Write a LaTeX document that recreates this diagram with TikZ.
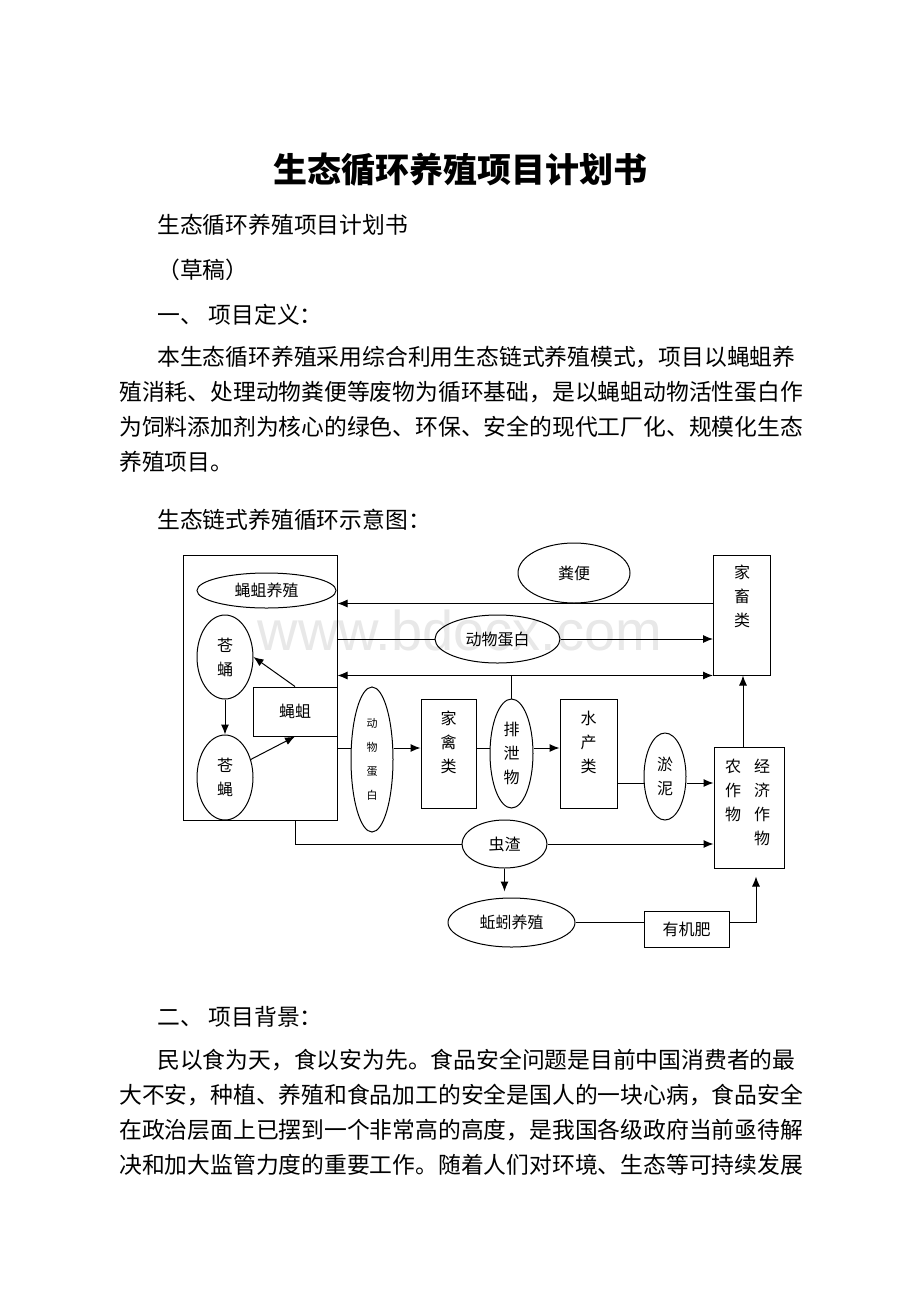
\documentclass[tikz,border=0pt]{standalone}
\usepackage{fontspec}
\newfontfamily\cjk{Noto Sans CJK SC}
\newfontfamily\wmfont{Liberation Sans}
\usepackage{tikz}
\usetikzlibrary{shapes.geometric}
\usetikzlibrary{positioning}
\usetikzlibrary{arrows.meta}
\tikzset{x=1pt, y=-1pt,        % one unit = one pixel of the page, y downwards
         every node/.style={inner sep=0pt, font=\cjk\fontsize{16}{24}\selectfont},
         box/.style={draw, rectangle, line width=1pt},
         oval/.style={draw, ellipse, line width=1pt, align=center},
         vtext/.style={align=center},
         body/.style={anchor=west, font=\cjk\fontsize{22.8}{35}\selectfont},
         link/.style={line width=1pt},
         arrow/.style={->, >={Latex[length=10pt,width=8pt]}, line width=1pt}}

\begin{document}
\begin{tikzpicture}
  \useasboundingbox[fill=white] (0,0) rectangle (920,1302);

  % watermark
  \node[text=gray!18, font=\wmfont\fontsize{56}{60}\selectfont] (mark) at (460,630) {www.bdocx.com};

  % page text
  \node[font=\cjk\bfseries\fontsize{34}{40}\selectfont] (title) at (460,170) {生态循环养殖项目计划书};
  \node[body] (sub) at (157,225) {生态循环养殖项目计划书};
  \node[body] (draft) at (157,270) {（草稿）};
  \node[body] (head1) at (157,315) {一、\hspace{6pt}项目定义：};
  \node[body] (p1a) at (157,357) {本生态循环养殖采用综合利用生态链式养殖模式，项目以蝇蛆养};
  \node[body] (p1b) at (119,392) {殖消耗、处理动物粪便等废物为循环基础，是以蝇蛆动物活性蛋白作};
  \node[body] (p1c) at (119,427) {为饲料添加剂为核心的绿色、环保、安全的现代工厂化、规模化生态};
  \node[body] (p1d) at (119,462) {养殖项目。};
  \node[body] (cap) at (157,520) {生态链式养殖循环示意图：};
  \node[body] (head2) at (157,1017) {二、\hspace{6pt}项目背景：};
  \node[body] (p2a) at (157,1060) {民以食为天，食以安为先。食品安全问题是目前中国消费者的最};
  \node[body] (p2b) at (119,1095) {大不安，种植、养殖和食品加工的安全是国人的一块心病，食品安全};
  \node[body] (p2c) at (119,1130) {在政治层面上已摆到一个非常高的高度，是我国各级政府当前亟待解};
  \node[body] (p2d) at (119,1165) {决和加大监管力度的重要工作。随着人们对环境、生态等可持续发展};

  % fly farming block
  \node[box, minimum width=154, minimum height=265] (frame) at (260,687.5) {};
  \node[oval, minimum width=139, minimum height=35] (flyfarm) at (266.5,590.5) {蝇蛆养殖};
  \node[oval, minimum width=56, minimum height=84] (pupa) at (225,657) {苍\\蛹};
  \node[oval, minimum width=56, minimum height=85] (fly) at (225,777.5) {苍\\蝇};
  \node[box, minimum width=84, minimum height=49] (maggot) at (295,711.5) {蝇蛆};

  % middle row
  \node[oval, minimum width=42, minimum height=145, font=\cjk\fontsize{11}{24}\selectfont] (proteinv) at (372,759.5) {动\\物\\蛋\\白};
  \node[box, minimum width=55, minimum height=109] (poultry) at (448.5,753.5) {};
  \node[vtext, below=12pt of poultry.north] (poultryT) {家\\禽\\类};
  \node[oval, minimum width=43, minimum height=109] (excreta) at (511.5,753.5) {排\\泄\\物};
  \node[box, minimum width=57, minimum height=109] (aqua) at (588.5,753.5) {};
  \node[vtext, below=12pt of aqua.north] (aquaT) {水\\产\\类};
  \node[oval, minimum width=42, minimum height=87] (silt) at (665,776.5) {淤\\泥};

  % top row
  \node[oval, minimum width=125, minimum height=48] (protein) at (497.5,639) {动物蛋白};
  \node[oval, minimum width=112, minimum height=60] (manure) at (574,573) {粪便};
  \node[box, minimum width=57, minimum height=120] (livestock) at (742,615) {};
  \node[vtext, below=10pt of livestock.north] (livestockT) {家\\畜\\类};

  % crops
  \node[box, minimum width=70, minimum height=121] (crops) at (749,807.5) {};
  \node[vtext, anchor=north] (cropA) at ([xshift=-16pt, yshift=-12pt]crops.north) {农\\作\\物};
  \node[vtext, anchor=north] (cropB) at ([xshift=13pt, yshift=-12pt]crops.north) {经\\济\\作\\物};

  % bottom row
  \node[oval, minimum width=85, minimum height=48] (residue) at (504.5,844) {虫渣};
  \node[oval, minimum width=127, minimum height=49] (worm) at (511.5,922.5) {蚯蚓养殖};
  \node[box, minimum width=85, minimum height=36] (fert) at (686.5,929) {有机肥};

  \coordinate (row) at (0,748);
  \coordinate (row2) at (0,783);

  % inside the block
  \draw[arrow] (maggot.north) -- (pupa.east);
  \draw[arrow] (pupa.south) -- (fly.north);
  \draw[arrow] (fly.35) -- (maggot.south);

  % top lines
  \draw[arrow] (livestock.west |- manure.south) -- (frame.east |- manure.south);
  \draw[link] (frame.east |- protein.west) -- (protein.west);
  \draw[arrow] (protein.east) -- (livestock.west |- protein.east);
  \draw[arrow, <->] (frame.east |- livestock.south) -- (livestock.south west);
  \draw[link] (excreta.north) -- (excreta.north |- livestock.south);

  % middle row
  \draw[link] (frame.east |- row) -- (proteinv.west |- row);
  \draw[arrow] (proteinv.east |- row) -- (poultry.west |- row);
  \draw[link] (poultry.east |- row) -- (excreta.west |- row);
  \draw[arrow] (excreta.east |- row) -- (aqua.west |- row);
  \draw[link] (aqua.east |- row2) -- (silt.west |- row2);
  \draw[arrow] (silt.east |- row2) -- (crops.west |- row2);
  \draw[arrow] ([xshift=-6pt]crops.north) -- ([xshift=-6pt]crops.north |- livestock.south);

  % bottom row
  \draw[link] (maggot.south |- frame.south) |- (residue.west);
  \draw[arrow] (residue.east) -- (crops.west |- residue.east);
  \draw[arrow, shorten >=6pt] (residue.south) -- (residue.south |- worm.north);
  \draw[link] (worm.east) -- (fert.west |- worm.east);
  \draw[arrow, shorten >=8pt] (fert.east |- worm.east) -| ([xshift=7pt]crops.south);
\end{tikzpicture}
\end{document}
